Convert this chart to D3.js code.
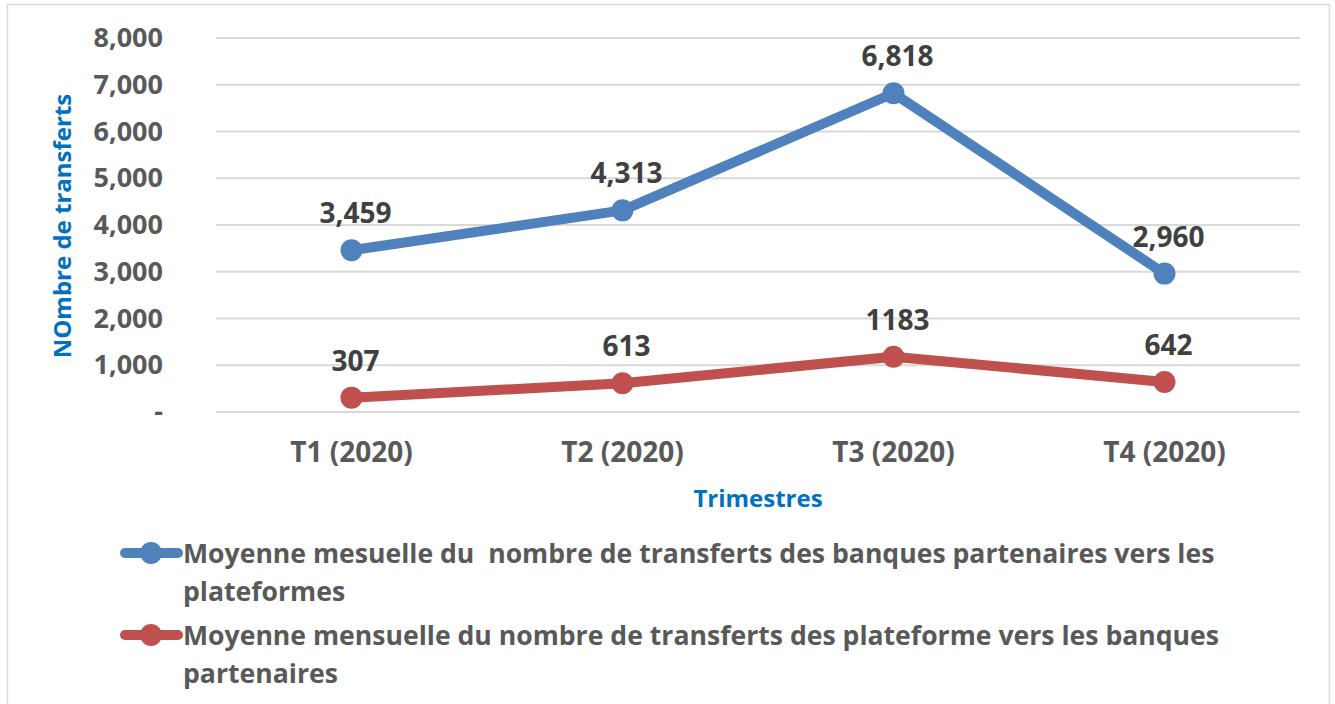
<!DOCTYPE html>
<html>
<head>
<meta charset="utf-8">
<script src="https://cdn.jsdelivr.net/npm/d3@7"></script>
<style>
  body { margin: 0; background: #fff; }
  svg text { font-family: "Open Sans", sans-serif; font-weight: bold; }
</style>
</head>
<body>
<svg id="chart"></svg>
<script>
// values
const categories = ["T1 (2020)", "T2 (2020)", "T3 (2020)", "T4 (2020)"];
const banquesVersPlateformes = [3459, 4313, 6818, 2960];
const plateformesVersBanques = [307, 613, 1183, 642];
const yTicks = [0, 1000, 2000, 3000, 4000, 5000, 6000, 7000, 8000];
const seriesNames = [
  ["Moyenne mesuelle du  nombre de transferts des banques partenaires vers les", "plateformes"],
  ["Moyenne mensuelle du nombre de transferts des plateforme vers les banques", "partenaires"]
];
const series = [
  { values: banquesVersPlateformes, color: "#4F81BD", label: d3.format(",") },
  { values: plateformesVersBanques, color: "#C0504D", label: (d) => String(d) }
];

const W = 1335, H = 704;
const margin = { top: 38, right: 35, bottom: 292, left: 216 };
const width = W - margin.left - margin.right;
const height = H - margin.top - margin.bottom;

const svg = d3.select("#chart").attr("width", W).attr("height", H);

// outer frame
svg.append("rect")
  .attr("x", 7.5).attr("y", 4.5)
  .attr("width", 1322).attr("height", 710)
  .attr("fill", "none").attr("stroke", "#d9d9d9").attr("stroke-width", 1.5);

const g = svg.append("g").attr("transform", `translate(${margin.left},${margin.top})`);

const x = d3.scaleBand().domain(categories).range([0, width]);
const y = d3.scaleLinear().domain([0, 8000]).range([height, 0]);

// gridlines
g.append("g")
  .selectAll("line")
  .data(yTicks)
  .join("line")
  .attr("x1", 0).attr("x2", width)
  .attr("y1", (d) => y(d)).attr("y2", (d) => y(d))
  .attr("stroke", "#d9d9d9").attr("stroke-width", 2);

// y axis
const yAxis = d3.axisLeft(y)
  .tickValues(yTicks)
  .tickFormat((d) => (d === 0 ? "-" : d3.format(",")(d)))
  .tickSize(0).tickPadding(53);
g.append("g").call(yAxis)
  .call((s) => s.select(".domain").remove())
  .selectAll("text")
  .attr("font-size", 27).attr("fill", "#595959")
  .attr("font-family", "Open Sans").attr("font-weight", "bold");

// x axis
const xAxis = d3.axisBottom(x).tickSize(0).tickPadding(30);
g.append("g").attr("transform", `translate(0,${height})`).call(xAxis)
  .call((s) => s.select(".domain").remove())
  .selectAll("text")
  .attr("font-size", 28).attr("fill", "#595959")
  .attr("font-family", "Open Sans").attr("font-weight", "bold");

// axis titles
svg.append("text")
  .attr("x", margin.left + width / 2).attr("y", 507)
  .attr("text-anchor", "middle")
  .attr("font-size", 24).attr("fill", "#0070C0")
  .text("Trimestres");

svg.append("text")
  .attr("transform", `translate(71,${margin.top + height / 2 + 1}) rotate(-90)`)
  .attr("text-anchor", "middle")
  .attr("font-size", 24).attr("fill", "#0070C0")
  .text("NOmbre de transferts");

const line = d3.line()
  .x((d, i) => x(categories[i]) + x.bandwidth() / 2)
  .y((d) => y(d));

series.forEach((s) => {
  g.append("path")
    .datum(s.values)
    .attr("d", line)
    .attr("fill", "none")
    .attr("stroke", s.color)
    .attr("stroke-width", 10)
    .attr("stroke-linejoin", "round");

  g.append("g").selectAll("circle")
    .data(s.values)
    .join("circle")
    .attr("cx", (d, i) => x(categories[i]) + x.bandwidth() / 2)
    .attr("cy", (d) => y(d))
    .attr("r", 11)
    .attr("fill", s.color);

  g.append("g").selectAll("text")
    .data(s.values)
    .join("text")
    .attr("x", (d, i) => x(categories[i]) + x.bandwidth() / 2 + 4)
    .attr("y", (d) => y(d) - 27)
    .attr("text-anchor", "middle")
    .attr("font-size", 28).attr("fill", "#404040")
    .text((d) => s.label(d));
});

// legend
const legendY = [553, 635];
series.forEach((s, i) => {
  const lg = svg.append("g").attr("transform", `translate(0,${legendY[i]})`);
  lg.append("line")
    .attr("x1", 125).attr("x2", 178)
    .attr("stroke", s.color).attr("stroke-width", 10).attr("stroke-linecap", "round");
  lg.append("circle").attr("cx", 151).attr("r", 11).attr("fill", s.color);
  lg.selectAll("text")
    .data(seriesNames[i])
    .join("text")
    .attr("x", 183)
    .attr("y", (d, j) => j * 38 + 10)
    .attr("font-size", 26.6).attr("fill", "#595959")
    .style("white-space", "pre")
    .text((d) => d);
});
</script>
</body>
</html>
